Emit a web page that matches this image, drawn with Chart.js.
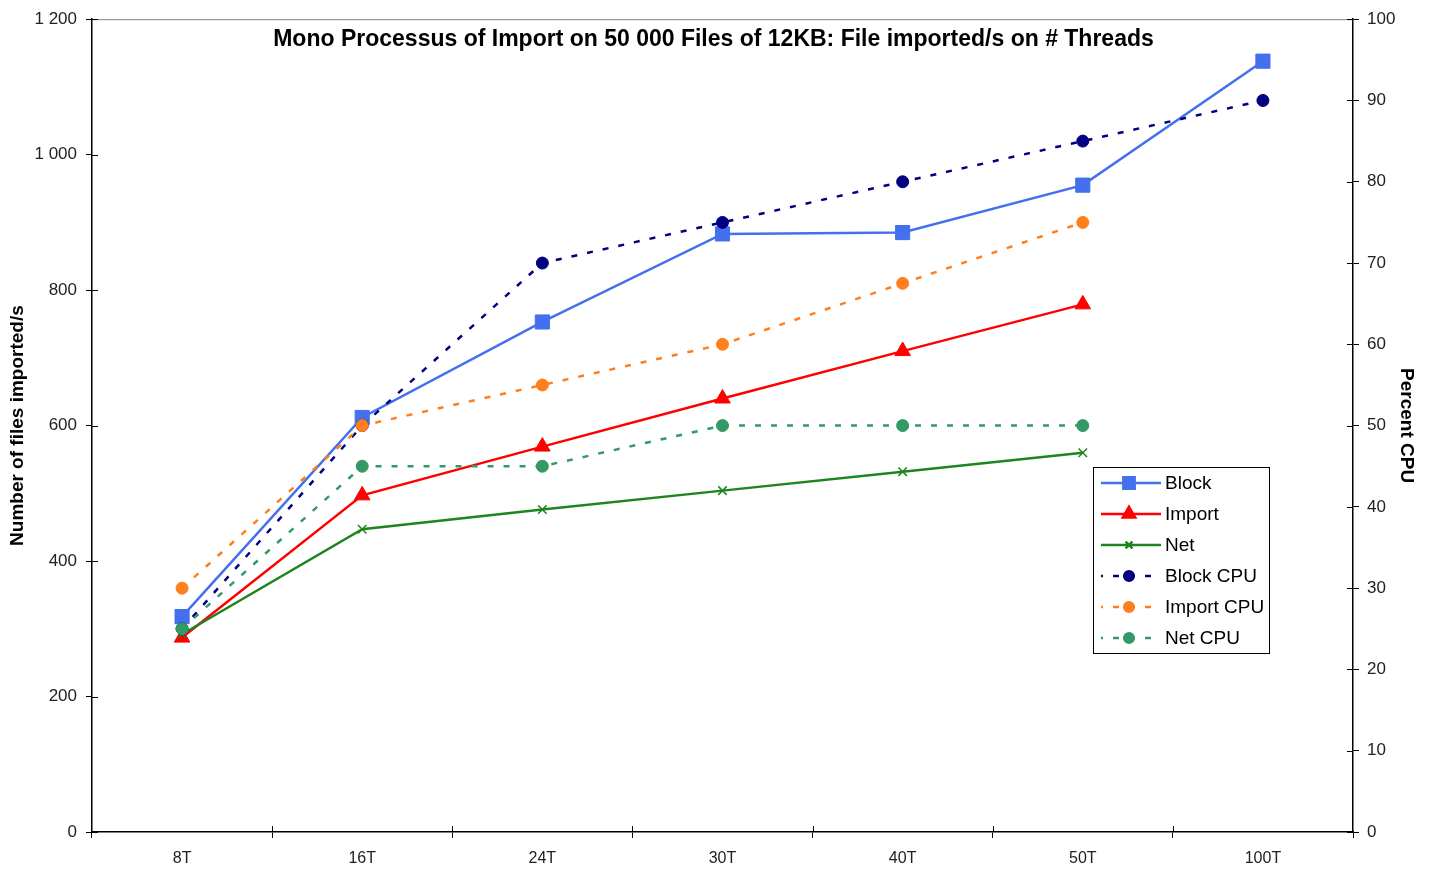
<!DOCTYPE html>
<html>
<head>
<meta charset="utf-8">
<title>Mono Processus of Import</title>
<script src="https://cdn.jsdelivr.net/npm/chart.js@4.4.1/dist/chart.umd.min.js"></script>
<style>
    body { margin: 0; background: #fff; }
    #wrap { width: 1431px; height: 870px; }
</style>
</head>
<body>
<div id="wrap"><canvas id="lineChart" width="1431" height="870"></canvas></div>
<script>
// Categories and values
const threads = ["8T", "16T", "24T", "30T", "40T", "50T", "100T"];
const blockRate = [318, 612, 753, 883, 885, 955, 1138];
const importRate = [287, 497, 569, 640, 710, 779, null];
const netRate = [292, 447, 476, 504, 532, 560, null];
const blockCpu = [25, 50, 70, 75, 80, 85, 90];
const importCpu = [30, 50, 55, 60, 67.5, 75, null];
const netCpu = [25, 45, 45, 50, 50, 50, null];
const rateTicks = [0, 200, 400, 600, 800, 1000, 1200];
const cpuTicks = [0, 10, 20, 30, 40, 50, 60, 70, 80, 90, 100];

const FONT = "'Liberation Sans', Arial, sans-serif";

function spaced(v) {
    return String(v).replace(/\B(?=(\d{3})+(?!\d))/g, ' ');
}

function series(label, data, color, style, radius, axis, dashed, order) {
    return {
        label: label,
        data: data,
        yAxisID: axis,
        borderColor: color,
        backgroundColor: color,
        pointBackgroundColor: color,
        pointBorderColor: color,
        pointStyle: style,
        pointRadius: radius,
        pointBorderWidth: style === 'crossRot' ? 1.5 : 1,
        borderWidth: 2.5,
        borderDash: dashed ? [6, 10] : [],
        tension: 0,
        spanGaps: false,
        order: order
    };
}

// title, legend box, top border and ticks that cross the axes
const decorations = {
    id: 'decorations',
    afterDraw(chart) {
        const ctx = chart.ctx;
        const area = chart.chartArea;
        ctx.save();

        // grey top border
        ctx.strokeStyle = '#808080';
        ctx.lineWidth = 1;
        ctx.beginPath();
        ctx.moveTo(area.left, area.top + 0.5);
        ctx.lineTo(area.right, area.top + 0.5);
        ctx.stroke();

        // inner half of the tick marks
        ctx.strokeStyle = '#000';
        ctx.beginPath();
        const y = chart.scales.y, y1 = chart.scales.y1, x = chart.scales.x;
        y.ticks.forEach((t, i) => {
            const p = Math.round(y.getPixelForTick(i)) + 0.5;
            ctx.moveTo(area.left, p); ctx.lineTo(area.left + 6, p);
        });
        y1.ticks.forEach((t, i) => {
            const p = Math.round(y1.getPixelForTick(i)) + 0.5;
            ctx.moveTo(area.right, p); ctx.lineTo(area.right - 6, p);
        });
        for (let i = 1; i < threads.length; i++) {
            const p = Math.round((x.getPixelForValue(i - 1) + x.getPixelForValue(i)) / 2) + 0.5;
            ctx.moveTo(p, area.bottom); ctx.lineTo(p, area.bottom - 6);
        }
        ctx.stroke();

        // title
        ctx.fillStyle = '#000';
        ctx.font = 'bold 23px ' + FONT;
        ctx.textAlign = 'center';
        ctx.textBaseline = 'middle';
        ctx.fillText('Mono Processus of Import on 50 000 Files of 12KB: File imported/s on # Threads',
            (area.left + area.right) / 2 - 9, area.top + 20);

        // legend
        const bx = 1093, by = 467, bw = 176, bh = 186;
        ctx.fillStyle = '#fff';
        ctx.fillRect(bx, by, bw, bh);
        ctx.strokeStyle = '#000';
        ctx.lineWidth = 1;
        ctx.strokeRect(bx + 0.5, by + 0.5, bw, bh);
        ctx.font = '19px ' + FONT;
        ctx.textAlign = 'left';
        chart.data.datasets.forEach((ds, i) => {
            const ly = by + 16 + i * 31;
            ctx.strokeStyle = ds.borderColor;
            ctx.lineWidth = ds.borderWidth;
            ctx.setLineDash(ds.borderDash.length ? [6, 10] : []);
            ctx.lineDashOffset = ds.borderDash.length ? 4 : 0;
            ctx.beginPath();
            ctx.moveTo(bx + 8, ly);
            ctx.lineTo(bx + 68, ly);
            ctx.stroke();
            ctx.setLineDash([]);
            ctx.fillStyle = ds.pointBackgroundColor;
            ctx.strokeStyle = ds.pointBorderColor;
            Chart.helpers.drawPoint(ctx, {
                pointStyle: ds.pointStyle,
                radius: ds.pointRadius * 0.8,
                borderWidth: ds.pointBorderWidth,
                rotation: 0
            }, bx + 36, ly);
            ctx.fillStyle = '#000';
            ctx.fillText(ds.label, bx + 72, ly + 1);
        });
        ctx.restore();
    }
};

document.addEventListener("DOMContentLoaded", function() {
    const LINE = document.getElementById("lineChart").getContext('2d');

    let mydata = {
        labels: threads,
        datasets: [
            series('Block', blockRate, '#4470ee', 'rect', 10, 'y', false, 6),
            series('Import', importRate, '#ff0000', 'triangle', 9, 'y', false, 5),
            series('Net', netRate, '#1e841e', 'crossRot', 6, 'y', false, 4),
            series('Block CPU', blockCpu, '#000080', 'circle', 6, 'y1', true, 3),
            series('Import CPU', importCpu, '#ff7f1e', 'circle', 6, 'y1', true, 2),
            series('Net CPU', netCpu, '#339966', 'circle', 6, 'y1', true, 1)
        ]
    };

    const tickFont = { family: FONT, size: 17 };
    const axisTitleFont = { family: FONT, size: 19, weight: 'bold' };

    let lineChart = new Chart(LINE, {
        type: 'line',
        data: mydata,
        plugins: [decorations],
        options: {
            responsive: false,
            animation: false,
            layout: { padding: { top: 17, left: 0, right: 0, bottom: 0 } },
            plugins: {
                legend: { display: false },
                title: { display: false },
                tooltip: { enabled: false }
            },
            scales: {
                x: {
                    offset: true,
                    grid: { offset: true, drawOnChartArea: false, color: '#000', tickLength: 6 },
                    border: { color: '#000', width: 1.5 },
                    ticks: { color: '#222', font: { family: FONT, size: 16 }, padding: 11, maxRotation: 0 },
                    afterFit(scale) { scale.height = 38; }
                },
                y: {
                    position: 'left',
                    min: 0,
                    max: 1200,
                    afterBuildTicks(scale) { scale.ticks = rateTicks.map(v => ({ value: v })); },
                    grid: { drawOnChartArea: false, color: '#000', tickLength: 6 },
                    border: { color: '#000', width: 1.5 },
                    ticks: { color: '#222', font: tickFont, padding: 9, callback: v => spaced(v) },
                    title: {
                        display: true,
                        text: 'Number of files imported/s',
                        font: axisTitleFont,
                        color: '#000',
                        padding: { top: 6, bottom: 0 }
                    },
                    afterFit(scale) { scale.width = 92; }
                },
                y1: {
                    position: 'right',
                    min: 0,
                    max: 100,
                    afterBuildTicks(scale) { scale.ticks = cpuTicks.map(v => ({ value: v })); },
                    grid: { drawOnChartArea: false, color: '#000', tickLength: 6 },
                    border: { color: '#000', width: 1.5 },
                    ticks: { color: '#222', font: tickFont, padding: 8 },
                    title: {
                        display: true,
                        text: 'Percent CPU',
                        font: axisTitleFont,
                        color: '#000',
                        padding: { top: 13, bottom: 0 }
                    },
                    afterFit(scale) { scale.width = 78; }
                }
            }
        }
    });
});
</script>
</body>
</html>
